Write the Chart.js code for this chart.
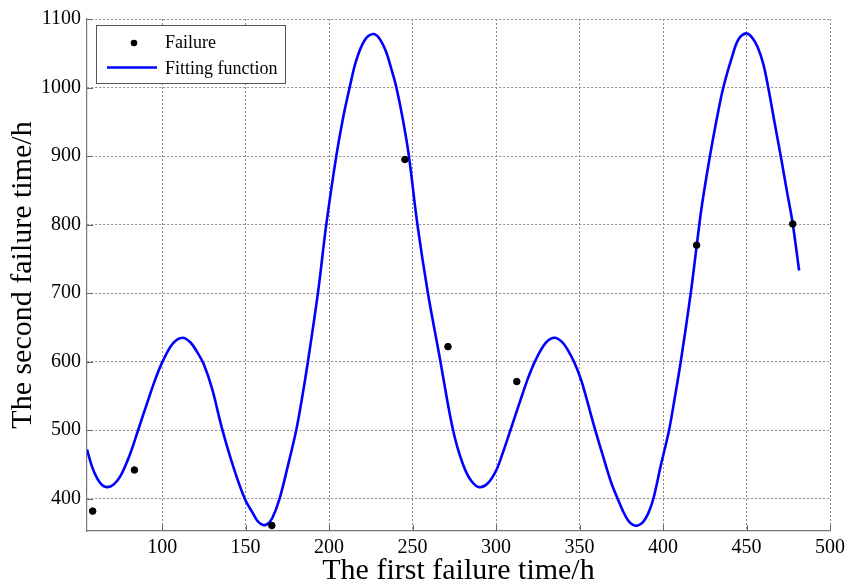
<!DOCTYPE html>
<html>
<head>
<meta charset="utf-8">
<script src="https://cdn.jsdelivr.net/npm/chart.js@4.4.1/dist/chart.umd.min.js"></script>
<style>
  html, body { margin: 0; padding: 0; background: #fff; }
  #wrap { width: 861px; height: 584px; position: relative; }
</style>
</head>
<body>
<div id="wrap"><canvas id="c" width="861" height="584"></canvas></div>
<script>
// Failure observations
const failureX = [58.4, 83.4, 165.7, 245.4, 271.2, 312.4, 420.1, 477.7];
const failureY = [382, 442, 361, 895, 622, 571, 770, 801];

// Fitting function
const fitX = [55, 58, 61, 64, 67, 71, 75, 80.6, 85.6, 91.6, 96, 100.6, 106.6, 112.2, 117, 121, 125, 130, 135.6, 142.6, 149.5,
  154.3, 157, 160, 163, 166, 170.3, 175.3, 180.3, 184, 187.3, 193.3, 198.3, 204.3, 208.3, 212.3, 216.3, 221.3, 226.3, 230, 234,
  237.3, 240.3, 244.3, 247.8, 252.9, 259.2, 266.7, 271, 274, 277, 281.2, 285.2, 289.8, 295.2, 300.2, 303.6, 308.6, 314.6,
  319, 323.6, 329.6, 334.8, 339, 343, 347, 351, 354.2, 359.2, 364.2, 369.2, 372.5, 376, 379.2, 382, 384.8, 388, 391,
  394.2, 398.6, 403.6, 407.2, 410.6, 416.6, 420.1, 423.1, 428.1, 432, 436.1, 441.1, 445.1, 449.7, 453, 456.5, 460,
  463, 467.1, 470.5, 474.1, 477.7, 481.5];
const fitY = [472, 447, 430, 420, 417, 421, 433, 464, 500, 544, 575, 602, 627, 635, 628, 614, 596, 560, 505, 447, 400,
  379, 368, 362, 363, 372, 400, 448, 500, 550, 600, 700, 800, 900, 955, 1000, 1040, 1069, 1078, 1072, 1053,
  1027, 1000, 952, 900, 800, 700, 600, 540, 503, 474, 444, 426, 417, 423, 442, 464, 500, 544,
  575, 602, 627, 635, 630, 617, 598, 573, 546, 502, 461, 422, 402, 382, 368, 362, 361, 366, 378,
  400, 448, 500, 550, 600, 700, 768, 825, 900, 952, 1000, 1043, 1070, 1079, 1074, 1060, 1035,
  1000, 945, 900, 850, 801, 733];

// Tick labels
const xTicks = [100, 150, 200, 250, 300, 350, 400, 450, 500];
const yTicks = [400, 500, 600, 700, 800, 900, 1000, 1100];

const FONT = "'Liberation Serif', 'Times New Roman', serif";

const inwardTicks = {
  id: 'inwardTicks',
  afterDatasetsDraw(chart) {
    const {ctx, chartArea, scales} = chart;
    ctx.save();
    ctx.strokeStyle = '#666';
    ctx.lineWidth = 1;
    ctx.beginPath();
    xTicks.forEach(v => {
      const px = Math.round(scales.x.getPixelForValue(v)) + 0.5;
      ctx.moveTo(px, chartArea.bottom);
      ctx.lineTo(px, chartArea.bottom - 6);
    });
    yTicks.forEach(v => {
      const py = Math.round(scales.y.getPixelForValue(v)) + 0.5;
      ctx.moveTo(chartArea.left, py);
      ctx.lineTo(chartArea.left + 6, py);
    });
    ctx.stroke();
    ctx.restore();
  }
};

const boxLegend = {
  id: 'boxLegend',
  afterDraw(chart) {
    const {ctx} = chart;
    const ds = chart.data.datasets;
    ctx.save();
    ctx.fillStyle = '#fff';
    ctx.fillRect(97, 25, 189, 58);
    ctx.strokeStyle = '#555';
    ctx.lineWidth = 1;
    ctx.strokeRect(96.5, 25.5, 189, 58);
    ctx.fillStyle = ds[0].backgroundColor;
    ctx.beginPath();
    ctx.arc(134, 43, 3.3, 0, Math.PI * 2);
    ctx.fill();
    ctx.strokeStyle = ds[1].borderColor;
    ctx.lineWidth = 2.5;
    ctx.beginPath();
    ctx.moveTo(107, 67.5);
    ctx.lineTo(157, 67.5);
    ctx.stroke();
    ctx.fillStyle = '#000';
    ctx.font = "18px " + FONT;
    ctx.textBaseline = 'middle';
    ctx.textAlign = 'left';
    ctx.fillText(ds[0].label, 165, 43);
    ctx.fillText(ds[1].label, 165, 69);
    ctx.restore();
  }
};

new Chart(document.getElementById('c'), {
  data: {
    datasets: [
      {
        type: 'scatter',
        label: 'Failure',
        data: failureX.map((x, i) => ({x, y: failureY[i]})),
        backgroundColor: '#000',
        borderColor: '#000',
        pointRadius: 3.3,
        pointHoverRadius: 3.3,
        clip: false,
        order: 0
      },
      {
        type: 'line',
        label: 'Fitting function',
        data: fitX.map((x, i) => ({x, y: fitY[i]})),
        borderColor: '#0000ff',
        backgroundColor: '#0000ff',
        borderWidth: 2.6,
        pointRadius: 0,
        tension: 0.35,
        fill: false,
        order: 1
      }
    ]
  },
  options: {
    responsive: false,
    animation: false,
    events: [],
    layout: { padding: { top: 19, right: 31, left: 0, bottom: 0 } },
    plugins: { legend: { display: false }, tooltip: { enabled: false } },
    scales: {
      x: {
        type: 'linear',
        min: 55,
        max: 500,
        afterBuildTicks: s => { s.ticks = xTicks.map(v => ({value: v})); },
        afterFit: s => { s.height = 53; },
        ticks: { color: '#000', padding: 5, font: { family: FONT, size: 20 }, callback: v => String(v) },
        grid: { color: '#8a8a8a', lineWidth: 1, drawTicks: false },
        border: { display: true, color: '#777', width: 1.2, dash: [2, 2] },
        title: {
          display: true,
          text: 'The first failure time/h',
          color: '#000',
          font: { family: FONT, size: 30 },
          padding: { top: 0, bottom: -5 }
        }
      },
      y: {
        type: 'linear',
        min: 353,
        max: 1100,
        afterBuildTicks: s => { s.ticks = yTicks.map(v => ({value: v})); },
        afterFit: s => { s.width = 87; },
        ticks: { color: '#000', padding: 6, font: { family: FONT, size: 20 }, callback: v => String(v) },
        grid: { color: '#8a8a8a', lineWidth: 1, drawTicks: false },
        border: { display: true, color: '#777', width: 1.2, dash: [2, 2] },
        title: {
          display: true,
          text: 'The second failure time/h',
          color: '#000',
          font: { family: FONT, size: 30 },
          padding: { top: 5, bottom: 0 }
        }
      }
    }
  },
  plugins: [inwardTicks, boxLegend]
});
</script>
</body>
</html>
